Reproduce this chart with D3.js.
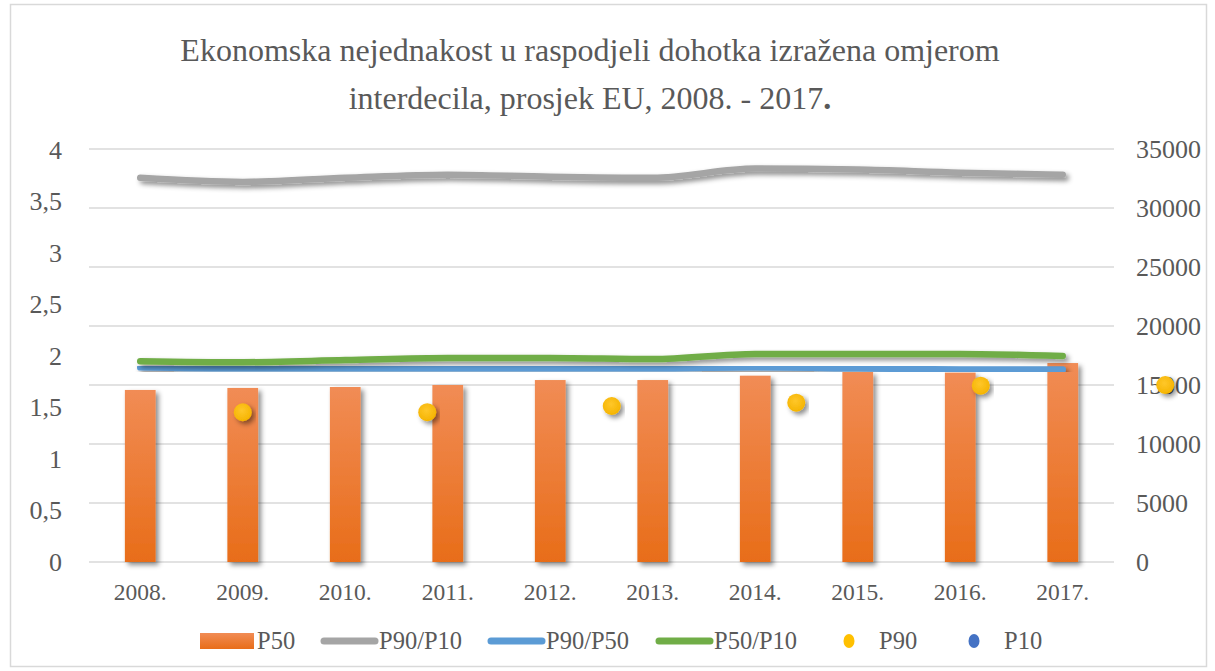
<!DOCTYPE html>
<html>
<head>
<meta charset="utf-8">
<script src="https://cdn.jsdelivr.net/npm/d3@7/dist/d3.min.js"></script>
<style>
  html, body { margin: 0; padding: 0; background: #fff; }
  svg { display: block; font-family: "Liberation Serif", "Times New Roman", serif; }
</style>
</head>
<body>
<svg id="chart" width="1215" height="671"></svg>
<script>
// Categories and series
const years = ["2008.", "2009.", "2010.", "2011.", "2012.", "2013.", "2014.", "2015.", "2016.", "2017."];
const p50 = [14580, 14750, 14830, 15000, 15420, 15420, 15790, 16100, 16050, 16860];
const p90p10 = [3.73, 3.69, 3.73, 3.76, 3.74, 3.73, 3.82, 3.81, 3.78, 3.76];
const p90p50 = [1.89, 1.88, 1.88, 1.88, 1.88, 1.88, 1.89, 1.88, 1.87, 1.87];
const p50p10 = [1.95, 1.94, 1.96, 1.98, 1.98, 1.97, 2.02, 2.02, 2.02, 2.00];
// Scatter series (x given in category-index units)
const p90x = [1, 2.8, 4.6, 6.4, 8.2, 10];
const p90 = [12690, 12700, 13220, 13500, 14940, 15000];
const leftTicks = [0, 0.5, 1, 1.5, 2, 2.5, 3, 3.5, 4];
const rightTicks = [0, 5000, 10000, 15000, 20000, 25000, 30000, 35000];
const titleLine1 = "Ekonomska nejednakost u raspodjeli dohotka izražena omjerom";
const titleLine2 = "interdecila, prosjek EU, 2008. - 2017";

const svg = d3.select("#chart");
const textColor = "#595959";
const serif = "Liberation Serif, Times New Roman, serif";
const plot = { left: 89, right: 1114, top: 149, bottom: 562 };

const defs = svg.append("defs");
const shadow = defs.append("filter").attr("id", "shadow")
  .attr("x", "-20%").attr("y", "-50%").attr("width", "140%").attr("height", "250%");
shadow.append("feDropShadow").attr("dx", 3).attr("dy", 3).attr("stdDeviation", 2.5)
  .attr("flood-color", "#000").attr("flood-opacity", 0.45);

const barGrad = defs.append("linearGradient").attr("id", "barGrad")
  .attr("x1", 0).attr("y1", 0).attr("x2", 0).attr("y2", 1);
barGrad.append("stop").attr("offset", "0%").attr("stop-color", "#F18C55");
barGrad.append("stop").attr("offset", "100%").attr("stop-color", "#E86D19");

const dotGrad = defs.append("radialGradient").attr("id", "dotGrad")
  .attr("cx", "45%").attr("cy", "40%").attr("r", "60%");
dotGrad.append("stop").attr("offset", "0%").attr("stop-color", "#FFC72A");
dotGrad.append("stop").attr("offset", "100%").attr("stop-color", "#F5B400");

// Chart area border
svg.append("rect").attr("x", 10.5).attr("y", 4.5).attr("width", 1196).attr("height", 662)
  .attr("fill", "#fff").attr("stroke", "#D9D9D9").attr("stroke-width", 1.5);

// Scales
const x = d3.scaleBand().domain(years).range([plot.left, plot.right])
  .paddingInner(0.7).paddingOuter(0.35);
const cx = i => x(years[i]) + x.bandwidth() / 2;
const xi = d3.scaleLinear().domain([0, years.length - 1]).range([cx(0), cx(years.length - 1)]);
const yL = d3.scaleLinear().domain([0, 4]).range([plot.bottom, 150]);
const yR = d3.scaleLinear().domain([0, 35000]).range([plot.bottom, plot.top]);

// Title
const title = svg.append("g").attr("fill", textColor).attr("font-size", 32)
  .attr("font-family", serif).attr("text-anchor", "middle");
title.append("text").attr("x", 590).attr("y", 61).text(titleLine1);
const t2 = title.append("text").attr("x", 590).attr("y", 109);
t2.append("tspan").text(titleLine2);
t2.append("tspan").attr("font-weight", "bold").text(".");

// Gridlines (secondary axis)
svg.append("g").selectAll("line").data(rightTicks).join("line")
  .attr("x1", plot.left).attr("x2", plot.right)
  .attr("y1", d => yR(d)).attr("y2", d => yR(d))
  .attr("stroke", "#D9D9D9").attr("stroke-width", 1.5);

// Left axis
const leftAxis = svg.append("g").attr("transform", `translate(${plot.left - 27},0)`)
  .call(d3.axisLeft(yL).tickValues(leftTicks).tickSize(0).tickPadding(0)
    .tickFormat(d => String(d).replace(".", ",")));
leftAxis.select(".domain").remove();
leftAxis.selectAll("text").attr("fill", textColor).attr("font-size", 26)
  .attr("font-family", serif);

// Right axis
const rightAxis = svg.append("g").attr("transform", `translate(${plot.right + 22},0)`)
  .call(d3.axisRight(yR).tickValues(rightTicks).tickSize(0).tickPadding(0).tickFormat(d3.format("d")));
rightAxis.select(".domain").remove();
rightAxis.selectAll("text").attr("fill", textColor).attr("font-size", 26)
  .attr("font-family", serif);

// Category axis
const bottomAxis = svg.append("g").attr("transform", `translate(0,${plot.bottom + 21})`)
  .call(d3.axisBottom(x).tickSize(0).tickPadding(0));
bottomAxis.select(".domain").remove();
bottomAxis.selectAll("text").attr("fill", textColor).attr("font-size", 23.5)
  .attr("font-family", serif);

// P50 bars
svg.append("g").attr("filter", "url(#shadow)").selectAll("rect").data(p50).join("rect")
  .attr("x", (d, i) => x(years[i])).attr("width", x.bandwidth())
  .attr("y", d => yR(d)).attr("height", d => yR(0) - yR(d))
  .attr("fill", "url(#barGrad)");

// Ratio lines
const line = d3.line().x((d, i) => cx(i)).y(d => yL(d)).curve(d3.curveMonotoneX);
const series = [
  { values: p90p10, color: "#A5A5A5" },
  { values: p90p50, color: "#5B9BD5" },
  { values: p50p10, color: "#70AD47" }
];
svg.append("g").selectAll("path").data(series).join("path")
  .attr("d", d => line(d.values)).attr("fill", "none")
  .attr("stroke", d => d.color).attr("stroke-width", 6.5)
  .attr("stroke-linecap", "round").attr("stroke-linejoin", "round")
  .attr("filter", "url(#shadow)");

// P90 points
svg.append("g").selectAll("circle").data(p90).join("circle")
  .attr("cx", (d, i) => xi(p90x[i])).attr("cy", d => yR(d)).attr("r", 9)
  .attr("fill", "url(#dotGrad)").attr("filter", "url(#shadow)");

// Legend
const legend = svg.append("g").attr("font-size", 24.5).attr("fill", textColor)
  .attr("font-family", serif);
const ly = 641;
legend.append("rect").attr("x", 200).attr("y", ly - 8).attr("width", 54).attr("height", 16)
  .attr("fill", "url(#barGrad)");
legend.append("text").attr("x", 257).attr("y", ly + 8).text("P50");
const legendLines = [
  { x: 324, label: "P90/P10", color: "#A5A5A5" },
  { x: 491, label: "P90/P50", color: "#5B9BD5" },
  { x: 659, label: "P50/P10", color: "#70AD47" }
];
legendLines.forEach(l => {
  legend.append("line").attr("x1", l.x).attr("x2", l.x + 51).attr("y1", ly).attr("y2", ly)
    .attr("stroke", l.color).attr("stroke-width", 7).attr("stroke-linecap", "round");
  legend.append("text").attr("x", l.x + 55).attr("y", ly + 8).text(l.label);
});
const legendDots = [
  { x: 849, label: "P90", color: "#FFC000" },
  { x: 974, label: "P10", color: "#4472C4" }
];
legendDots.forEach(l => {
  legend.append("ellipse").attr("cx", l.x).attr("cy", ly).attr("rx", 5.5).attr("ry", 7)
    .attr("fill", l.color);
  legend.append("text").attr("x", l.x + 30).attr("y", ly + 8).text(l.label);
});
</script>
</body>
</html>
